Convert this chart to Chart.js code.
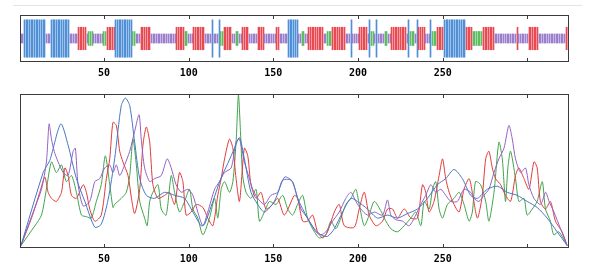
<!DOCTYPE html>
<html>
<head>
<meta charset="utf-8">
<script src="https://cdn.jsdelivr.net/npm/chart.js@4.4.1/dist/chart.umd.min.js"></script>
<style>
  body { margin: 0; background: #fff; width: 589px; height: 266px; position: relative; overflow: hidden; }
  #sep { position: absolute; left: 13px; top: 5px; width: 569px; height: 0; border-top: 1px solid #e4e4e4; }
  #trackChart { position: absolute; left: 0; top: 0; }
  #lineChart { position: absolute; left: 0; top: 80px; }
</style>
</head>
<body>
<div id="sep"></div>
<canvas id="trackChart" width="589" height="80"></canvas>
<canvas id="lineChart" width="589" height="186"></canvas>
<script>
// residue range and axis ticks
var firstRes = 1, lastRes = 324;
var tickValues = [50, 100, 150, 200, 250, 300];
var tickLabels = [50, 100, 150, 200, 250];

// secondary structure track: segments of [start, end, type]
// H = helix (blue), E = strand (red), T = turn (green), C = coil (purple)
var segments = [
    [1, 2, 'C'], [3, 15, 'H'], [16, 18, 'C'], [19, 29, 'H'], [30, 34, 'C'],
    [35, 39, 'E'], [40, 40, 'C'], [41, 43, 'T'], [44, 49, 'C'], [50, 51, 'T'],
    [52, 56, 'E'], [57, 66, 'H'], [67, 68, 'T'], [69, 71, 'C'], [72, 77, 'E'],
    [78, 92, 'C'], [93, 97, 'E'], [98, 99, 'T'], [100, 102, 'C'], [103, 109, 'E'],
    [110, 113, 'C'], [114, 114, 'H'], [115, 117, 'C'], [118, 118, 'H'], [119, 120, 'T'],
    [121, 125, 'E'], [126, 127, 'C'], [128, 129, 'T'], [130, 131, 'C'], [132, 135, 'E'],
    [136, 140, 'C'], [141, 144, 'E'], [145, 151, 'C'], [152, 153, 'E'], [154, 158, 'C'],
    [159, 164, 'H'], [165, 166, 'C'], [167, 168, 'T'], [169, 170, 'C'], [171, 179, 'E'],
    [180, 181, 'C'], [182, 184, 'T'], [185, 192, 'E'], [193, 195, 'C'], [196, 196, 'H'],
    [197, 200, 'C'], [201, 205, 'E'], [206, 206, 'C'], [207, 207, 'H'], [208, 209, 'T'],
    [210, 210, 'C'], [211, 211, 'H'], [212, 215, 'C'], [216, 217, 'T'], [218, 219, 'C'],
    [220, 228, 'E'], [229, 229, 'C'], [230, 230, 'H'], [231, 233, 'T'], [234, 234, 'C'],
    [235, 235, 'H'], [236, 239, 'E'], [240, 242, 'C'], [243, 243, 'H'], [244, 246, 'T'],
    [247, 250, 'E'], [251, 263, 'H'], [264, 267, 'E'], [268, 273, 'T'], [274, 280, 'E'],
    [281, 293, 'C'], [294, 294, 'E'], [295, 300, 'C'], [301, 306, 'E'], [307, 321, 'C'],
    [322, 322, 'C'], [323, 324, 'E']
];
var typeHeight = { H: 0.83, E: 0.5, T: 0.31, C: 0.2 };
var typeColor = { H: '#4f8fd6', E: '#e84a52', T: '#5cbd62', C: '#9c7fcc' };

// profile lines: [residue, value]
var blue = [[1,0.01],[14.1,0.49],[18,0.57],[24.5,0.81],[28.8,0.67],[33.7,0.45],[38.7,0.30],[44.6,0.13],[48.4,0.15],[52.4,0.31],[56.3,0.58],[60.2,0.93],[62.6,0.98],[65.2,0.93],[68.1,0.69],[71.1,0.45],[75,0.34],[79.9,0.32],[85.8,0.36],[91.7,0.34],[97.6,0.32],[101.5,0.25],[107.4,0.14],[109.4,0.15],[114.3,0.30],[119,0.45],[123.1,0.55],[127.1,0.65],[130,0.72],[132.9,0.58],[136.8,0.36],[140.8,0.28],[144.7,0.23],[150.6,0.30],[156.7,0.46],[161.4,0.43],[164.3,0.32],[170.2,0.19],[174.2,0.12],[178.1,0.08],[182,0.07],[186,0.12],[190.9,0.23],[195.8,0.32],[199.7,0.30],[205.6,0.25],[211.5,0.19],[217.4,0.21],[223.3,0.19],[229.2,0.22],[235.1,0.25],[241,0.32],[246.9,0.41],[251.8,0.45],[256.7,0.51],[261.6,0.45],[266.5,0.34],[270.5,0.32],[276.4,0.38],[282.3,0.40],[288.1,0.36],[294,0.34],[299.9,0.30],[305.8,0.26],[311.7,0.19],[317.6,0.10],[323.5,0.01]];
var red = [[1,0.01],[7.2,0.19],[12.1,0.36],[15.1,0.46],[17,0.36],[19,0.32],[21.9,0.30],[24.9,0.36],[26.9,0.52],[28.8,0.47],[30.8,0.34],[33.7,0.32],[37.7,0.41],[39.6,0.36],[41.6,0.25],[44.6,0.17],[48.4,0.21],[51.4,0.45],[53.4,0.58],[55.3,0.82],[57.3,0.80],[59.3,0.63],[61.2,0.56],[64.2,0.47],[66.1,0.33],[68.1,0.22],[71.1,0.38],[73,0.67],[75,0.79],[77,0.69],[78.9,0.41],[81.9,0.32],[85.8,0.34],[88.7,0.36],[91.7,0.28],[94.6,0.49],[96.6,0.43],[98.5,0.21],[101.5,0.23],[104.4,0.28],[108.4,0.26],[111.3,0.19],[114.3,0.14],[117.2,0.34],[119.2,0.45],[121.2,0.58],[124.1,0.71],[126.1,0.65],[128,0.45],[130,0.30],[132.9,0.65],[134.9,0.60],[136.8,0.41],[139.8,0.32],[142.7,0.36],[145.7,0.25],[149.6,0.28],[152.6,0.32],[156.5,0.21],[162.4,0.34],[164.3,0.32],[167.3,0.17],[170.2,0.17],[173.2,0.21],[176.1,0.10],[179.1,0.06],[182,0.10],[186,0.23],[188.9,0.28],[191.9,0.14],[197.8,0.13],[200.7,0.25],[203.7,0.36],[206.6,0.21],[210.6,0.14],[214.5,0.17],[217.4,0.25],[220.4,0.25],[223.3,0.19],[227.3,0.25],[231.2,0.19],[235.1,0.19],[238.1,0.41],[240,0.36],[242,0.23],[244.9,0.30],[247.9,0.47],[249.9,0.58],[251.8,0.45],[253.8,0.36],[256.7,0.28],[259.7,0.23],[262.6,0.38],[265.6,0.45],[267.5,0.36],[270.5,0.19],[273.4,0.34],[275.4,0.58],[277.3,0.63],[279.3,0.52],[281.2,0.45],[284.2,0.41],[287.1,0.34],[290.1,0.30],[293,0.47],[295,0.52],[298,0.45],[300.9,0.38],[303.9,0.56],[305.8,0.52],[307.7,0.30],[310.7,0.25],[313.6,0.30],[316.6,0.17],[320.5,0.10],[323.5,0.01]];
var green = [[1,0.01],[9.2,0.14],[13.1,0.21],[16,0.38],[19,0.56],[21.9,0.49],[24.9,0.54],[27.8,0.43],[30.8,0.47],[33.7,0.36],[36.7,0.21],[39.6,0.20],[42.5,0.19],[45.5,0.30],[48.4,0.41],[50.8,0.60],[53.4,0.41],[55.3,0.26],[56.3,0.28],[60.2,0.32],[63.2,0.36],[65.2,0.47],[67.1,0.71],[69.1,0.54],[71.1,0.30],[74,0.19],[75.5,0.14],[77,0.30],[78.9,0.36],[81.9,0.41],[83.8,0.25],[86.7,0.21],[89.7,0.47],[91.7,0.36],[94.6,0.23],[97.6,0.30],[100.5,0.38],[102.5,0.25],[105.4,0.19],[108.4,0.08],[112.3,0.19],[115.3,0.32],[117.2,0.19],[119.2,0.38],[121.2,0.43],[124.1,0.36],[126.1,0.43],[128,0.69],[129.4,1.0],[130.6,0.76],[131.9,0.47],[133.9,0.36],[136.8,0.32],[139.8,0.38],[141.8,0.17],[144.7,0.23],[147.7,0.30],[151.6,0.28],[155.5,0.34],[158.5,0.25],[161.4,0.21],[164.3,0.28],[167.3,0.34],[170.2,0.19],[173.2,0.12],[177.1,0.06],[181,0.08],[184,0.17],[186.9,0.12],[189.9,0.19],[192.8,0.28],[195.8,0.32],[198.7,0.38],[200.7,0.28],[203.7,0.14],[206.6,0.21],[209.6,0.30],[213.9,0.23],[215.5,0.19],[219.4,0.12],[223.3,0.10],[227.3,0.14],[231.2,0.19],[234.1,0.23],[237.1,0.14],[239.1,0.30],[242,0.25],[244,0.38],[245.9,0.43],[247.9,0.25],[249.9,0.19],[252.8,0.28],[256.7,0.32],[259.7,0.36],[262.6,0.28],[265.6,0.17],[267.5,0.23],[269.4,0.43],[272.4,0.41],[275.4,0.30],[277.3,0.17],[280.3,0.36],[283.2,0.69],[285.2,0.58],[287.1,0.30],[288.5,0.52],[290.1,0.63],[293,0.45],[295,0.30],[298,0.32],[299.9,0.21],[302.9,0.25],[305.8,0.30],[308.8,0.43],[310.7,0.25],[313.6,0.17],[315.6,0.08],[318.6,0.10],[323.5,0.01]];
var purple = [[1,0.01],[8.2,0.23],[13.1,0.38],[16,0.56],[17.6,0.81],[19,0.71],[20.6,0.63],[22.9,0.56],[25.9,0.49],[28.8,0.47],[31.8,0.63],[33.1,0.65],[34.7,0.41],[37.7,0.27],[41.6,0.30],[44.6,0.43],[47.5,0.45],[50.4,0.52],[53.4,0.54],[55.3,0.49],[57.3,0.54],[59.3,0.47],[62.2,0.54],[65.2,0.63],[68.1,0.76],[70.7,0.87],[72,0.71],[74,0.52],[77,0.43],[79.9,0.45],[83.8,0.47],[87.3,0.58],[89.7,0.52],[92.6,0.41],[95.6,0.36],[99.5,0.38],[102.5,0.34],[105.4,0.23],[108.4,0.14],[111.3,0.23],[115.3,0.38],[118.2,0.43],[121.2,0.49],[125.1,0.52],[128,0.69],[130,0.71],[132.9,0.56],[135.9,0.45],[137.8,0.38],[140.8,0.32],[144.7,0.28],[148.6,0.34],[152.6,0.36],[155.5,0.44],[160.4,0.44],[163.4,0.36],[166.3,0.25],[170.2,0.19],[175.1,0.10],[178.1,0.08],[181,0.10],[185,0.17],[188.9,0.23],[192.8,0.32],[195.8,0.36],[198.7,0.30],[201.7,0.25],[205.6,0.21],[209.6,0.23],[214.5,0.21],[217.4,0.31],[219.4,0.21],[222.3,0.18],[226.3,0.17],[230.2,0.14],[234.1,0.21],[237.1,0.28],[240,0.34],[243,0.41],[245.9,0.36],[248.9,0.38],[251.8,0.34],[254.8,0.30],[258.7,0.30],[262.6,0.38],[266.5,0.36],[268.5,0.32],[271.4,0.30],[274.4,0.34],[277.3,0.38],[280.3,0.49],[283.2,0.58],[286.2,0.65],[289.1,0.80],[291.1,0.71],[293,0.58],[296,0.49],[298.9,0.52],[300.9,0.41],[303.9,0.32],[307.8,0.28],[310.8,0.36],[312.8,0.30],[315.7,0.23],[319.6,0.12],[323.5,0.01]];

// frame + inward tick marks, matlab style
var frameTicks = {
    id: 'frameTicks',
    afterDraw: function (chart) {
        var ctx = chart.ctx, a = chart.chartArea, x = chart.scales.x;
        ctx.save();
        ctx.strokeStyle = '#3a3a3a';
        ctx.lineWidth = 1;
        ctx.strokeRect(a.left - 0.5, a.top - 0.5, a.right - a.left + 1, a.bottom - a.top + 1);
        ctx.beginPath();
        tickValues.forEach(function (v) {
            var px = Math.round(x.getPixelForValue(v)) + 0.5;
            ctx.moveTo(px, a.top);
            ctx.lineTo(px, a.top + 3);
            ctx.moveTo(px, a.bottom);
            ctx.lineTo(px, a.bottom - 3);
        });
        ctx.stroke();
        ctx.restore();
    }
};

// snap the 1px residue bars to whole pixels so they read as stripes
var snapBars = {
    id: 'snapBars',
    beforeDatasetsDraw: function (chart) {
        chart.getDatasetMeta(0).data.forEach(function (el) {
            el.x = Math.floor(el.x) + 0.5;
        });
    }
};

function xAxis() {
    return {
        type: 'linear',
        min: firstRes,
        max: lastRes,
        offset: false,
        grid: { display: false, drawTicks: false },
        border: { display: false },
        afterBuildTicks: function (s) {
            s.ticks = tickValues.map(function (v) { return { value: v }; });
        },
        afterFit: function (s) { s.height = 19; },
        ticks: {
            autoSkip: false,
            maxRotation: 0,
            padding: 6,
            color: '#000',
            font: { family: 'DejaVu Sans Mono', size: 10, weight: 'bold' },
            callback: function (v) { return tickLabels.indexOf(v) >= 0 ? String(v) : ''; }
        }
    };
}

// build track bars from segments
var trackData = [], trackColors = [];
segments.forEach(function (seg) {
    for (var r = seg[0]; r <= seg[1]; r++) {
        var h = typeHeight[seg[2]];
        trackData.push({ x: r, y: [-h, h] });
        trackColors.push(typeColor[seg[2]]);
    }
});

new Chart(document.getElementById('trackChart').getContext('2d'), {
    type: 'bar',
    data: {
        datasets: [{
            data: trackData,
            backgroundColor: trackColors,
            barThickness: 1,
            borderWidth: 0
        }]
    },
    options: {
        responsive: false,
        animation: false,
        devicePixelRatio: 1,
        layout: { padding: { left: 21, right: 21, top: 16, bottom: 0 } },
        plugins: { legend: { display: false }, tooltip: { enabled: false } },
        scales: {
            x: xAxis(),
            y: { display: false, min: -1, max: 1 }
        }
    },
    plugins: [snapBars, frameTicks]
});

function toPoints(arr) {
    return arr.map(function (p) { return { x: p[0], y: p[1] }; });
}

function lineSet(arr, color) {
    return {
        data: toPoints(arr),
        borderColor: color,
        borderWidth: 1,
        pointRadius: 0,
        tension: 0.25,
        fill: false
    };
}

new Chart(document.getElementById('lineChart').getContext('2d'), {
    type: 'line',
    data: {
        datasets: [
            lineSet(blue, '#4677c4'),
            lineSet(purple, '#9461c4'),
            lineSet(red, '#e23a3a'),
            lineSet(green, '#3fa34a')
        ]
    },
    options: {
        responsive: false,
        animation: false,
        devicePixelRatio: 1,
        layout: { padding: { left: 21, right: 21, top: 15, bottom: 0 } },
        plugins: { legend: { display: false }, tooltip: { enabled: false } },
        scales: {
            x: xAxis(),
            y: { display: false, min: 0, max: 1 }
        }
    },
    plugins: [frameTicks]
});
</script>
</body>
</html>
